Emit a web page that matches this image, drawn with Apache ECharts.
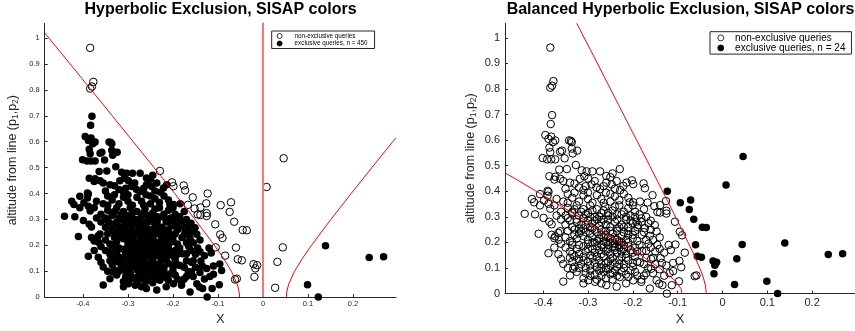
<!DOCTYPE html>
<html><head><meta charset="utf-8">
<script src="https://cdn.jsdelivr.net/npm/echarts@6/dist/echarts.min.js"></script>
<style>html,body{margin:0;padding:0;background:#fff}#c{width:855px;height:331px}</style>
</head><body><div id="c"></div>
<script>
const FONT = 'Liberation Sans, Arial, sans-serif';
const xTicks = [-0.4, -0.3, -0.2, -0.1, 0, 0.1, 0.2];
const yTicks = [0, 0.1, 0.2, 0.3, 0.4, 0.5, 0.6, 0.7, 0.8, 0.9, 1];

// points left of the hyperbola (black on the left, open on the right)
const mainCloud = [
[-0.38,0.698],[-0.383,0.663],[-0.395,0.62],[-0.388,0.605],[-0.382,0.614],[-0.373,0.599],[-0.378,0.592],[-0.386,0.571],[-0.384,0.553],[-0.401,0.53],[-0.391,0.525],[-0.382,0.525],[-0.373,0.525],[-0.362,0.555],[-0.358,0.559],[-0.352,0.529],[-0.342,0.599],[-0.338,0.597],[-0.336,0.592],[-0.336,0.567],[-0.334,0.548],[-0.324,0.559],[-0.327,0.503],
[-0.364,0.485],[-0.347,0.487],[-0.314,0.482],[-0.303,0.478],[-0.29,0.478],[-0.273,0.478],[-0.386,0.459],[-0.373,0.457],[-0.362,0.449],[-0.318,0.449],[-0.299,0.449],[-0.308,0.459],[-0.259,0.46],[-0.25,0.455],[-0.245,0.47],[-0.375,0.446],
[-0.355,0.44],[-0.34,0.434],[-0.292,0.427],[-0.281,0.415],[-0.273,0.408],[-0.259,0.434],[-0.247,0.427],[-0.236,0.44],[-0.221,0.421],[-0.214,0.434],[-0.39,0.402],[-0.33,0.43],[-0.32,0.415],[-0.305,0.42],[-0.285,0.44],[-0.265,0.42],[-0.24,0.41],[-0.228,0.405],[-0.35,0.41],[-0.31,0.405],
[-0.407,0.389],[-0.388,0.398],[-0.425,0.37],[-0.42,0.357],[-0.398,0.364],[-0.39,0.383],[-0.388,0.351],[-0.407,0.345],[-0.37,0.37],[-0.355,0.36],[-0.345,0.39],[-0.335,0.375],[-0.32,0.36],[-0.31,0.385],[-0.3,0.37],[-0.29,0.355],[-0.28,0.385],[-0.27,0.37],[-0.26,0.395],[-0.25,0.36],[-0.24,0.38],[-0.23,0.365],[-0.22,0.39],[-0.207,0.357],[-0.199,0.357],[-0.21,0.375],[-0.184,0.36],[-0.33,0.395],[-0.3,0.395],[-0.265,0.355],[-0.345,0.355],[-0.25,0.39],
[-0.441,0.312],[-0.418,0.31],[-0.384,0.332],[-0.375,0.345],[-0.36,0.32],[-0.35,0.305],[-0.345,0.335],[-0.335,0.315],[-0.325,0.345],[-0.32,0.305],[-0.31,0.33],[-0.3,0.315],[-0.295,0.345],[-0.285,0.3],[-0.28,0.33],[-0.27,0.315],[-0.262,0.34],[-0.255,0.305],[-0.245,0.325],[-0.235,0.31],[-0.23,0.345],[-0.22,0.32],[-0.21,0.335],[-0.205,0.305],[-0.195,0.32],[-0.185,0.31],[-0.17,0.3],[-0.175,0.33],[-0.315,0.32],[-0.29,0.325],[-0.265,0.325],[-0.24,0.34],[-0.2,0.345],[-0.37,0.305],[-0.33,0.33],
[-0.399,0.296],[-0.386,0.281],[-0.381,0.271],[-0.36,0.29],[-0.35,0.27],[-0.34,0.285],[-0.335,0.26],[-0.325,0.28],[-0.32,0.255],[-0.31,0.295],[-0.305,0.27],[-0.3,0.285],[-0.295,0.26],[-0.29,0.275],[-0.28,0.29],[-0.275,0.265],[-0.27,0.28],[-0.26,0.27],[-0.255,0.29],[-0.25,0.26],[-0.24,0.28],[-0.235,0.255],[-0.225,0.27],[-0.215,0.29],[-0.21,0.26],[-0.2,0.275],[-0.192,0.281],[-0.188,0.268],[-0.181,0.294],[-0.173,0.256],[-0.151,0.268],[-0.16,0.285],[-0.165,0.275],[-0.31,0.255],[-0.285,0.25],[-0.345,0.295],
[-0.41,0.234],[-0.381,0.23],[-0.373,0.224],[-0.366,0.237],[-0.362,0.244],[-0.365,0.211],[-0.375,0.217],[-0.35,0.22],[-0.345,0.245],[-0.34,0.205],[-0.33,0.23],[-0.325,0.215],[-0.315,0.245],[-0.31,0.225],[-0.3,0.21],[-0.295,0.235],[-0.29,0.22],[-0.285,0.2],[-0.28,0.24],[-0.275,0.215],[-0.27,0.23],[-0.265,0.205],[-0.26,0.245],[-0.255,0.22],[-0.25,0.2],[-0.245,0.235],[-0.24,0.215],[-0.235,0.245],[-0.23,0.205],[-0.225,0.225],[-0.22,0.24],[-0.215,0.21],[-0.21,0.23],[-0.2,0.215],[-0.195,0.245],[-0.19,0.205],[-0.18,0.23],[-0.162,0.226],[-0.147,0.243],[-0.155,0.21],[-0.17,0.21],[-0.14,0.22],[-0.26,0.2],[-0.255,0.19],[-0.245,0.205],[-0.24,0.195],[-0.235,0.21],[-0.23,0.19],[-0.225,0.2],[-0.22,0.19],[-0.25,0.215],[-0.265,0.22],[-0.28,0.205],
[-0.388,0.158],[-0.366,0.154],[-0.35,0.18],[-0.34,0.165],[-0.335,0.19],[-0.325,0.175],[-0.32,0.155],[-0.31,0.185],[-0.305,0.165],[-0.3,0.195],[-0.295,0.15],[-0.29,0.175],[-0.285,0.16],[-0.28,0.185],[-0.275,0.17],[-0.27,0.155],[-0.265,0.18],[-0.26,0.165],[-0.255,0.175],[-0.25,0.155],[-0.245,0.185],[-0.24,0.17],[-0.235,0.16],[-0.23,0.18],[-0.225,0.165],[-0.22,0.175],[-0.215,0.155],[-0.21,0.185],[-0.205,0.17],[-0.2,0.16],[-0.195,0.18],[-0.19,0.165],[-0.179,0.167],[-0.17,0.167],[-0.16,0.18],[-0.15,0.165],[-0.14,0.175],[-0.13,0.16],[-0.12,0.19],[-0.115,0.17],[-0.375,0.18],[-0.36,0.195],
[-0.355,0.116],[-0.34,0.14],[-0.335,0.125],[-0.33,0.105],[-0.32,0.135],[-0.315,0.115],[-0.31,0.145],[-0.305,0.1],[-0.3,0.125],[-0.295,0.11],[-0.29,0.14],[-0.285,0.12],[-0.28,0.105],[-0.275,0.13],[-0.27,0.115],[-0.265,0.145],[-0.26,0.1],[-0.255,0.125],[-0.25,0.11],[-0.245,0.14],[-0.24,0.12],[-0.235,0.105],[-0.23,0.13],[-0.225,0.145],[-0.22,0.115],[-0.21,0.13],[-0.2,0.105],[-0.19,0.125],[-0.184,0.122],[-0.159,0.135],[-0.138,0.139],[-0.096,0.128],[-0.092,0.103],[-0.11,0.12],[-0.125,0.11],[-0.15,0.115],[-0.17,0.14],[-0.195,0.145],[-0.33,0.145],[-0.36,0.135],[-0.345,0.1],
[-0.34,0.071],[-0.333,0.097],[-0.325,0.085],[-0.31,0.06],[-0.305,0.08],[-0.299,0.052],[-0.295,0.09],[-0.285,0.075],[-0.28,0.055],[-0.275,0.09],[-0.27,0.07],[-0.265,0.085],[-0.26,0.06],[-0.255,0.095],[-0.25,0.075],[-0.245,0.055],[-0.24,0.09],[-0.235,0.07],[-0.229,0.065],[-0.225,0.085],[-0.215,0.075],[-0.205,0.09],[-0.199,0.052],[-0.19,0.07],[-0.181,0.055],[-0.166,0.099],[-0.159,0.097],[-0.147,0.052],[-0.118,0.08],[-0.11,0.088],[-0.17,0.08],[-0.13,0.07],
[-0.355,0.047],[-0.284,0.046],[-0.259,0.033],[-0.236,0.027],[-0.181,0.046],[-0.162,0.02],[-0.141,0.039],[-0.134,0.033],[-0.124,0.0],[-0.113,0.033],[-0.097,0.048],[-0.27,0.04],[-0.215,0.04],[-0.31,0.04],
[-0.335,0.32],[-0.325,0.29],[-0.315,0.27],[-0.305,0.31],[-0.295,0.3],[-0.285,0.285],[-0.275,0.3],[-0.265,0.29],[-0.255,0.315],[-0.245,0.3],[-0.235,0.29],[-0.225,0.31],[-0.215,0.3],[-0.205,0.285],[-0.195,0.3],
[-0.33,0.25],[-0.32,0.235],[-0.305,0.24],[-0.29,0.255],[-0.27,0.25],[-0.25,0.245],[-0.23,0.26],[-0.21,0.245],[-0.19,0.26],[-0.175,0.24],
[-0.335,0.2],[-0.32,0.19],[-0.3,0.175],[-0.27,0.19],[-0.24,0.18],[-0.21,0.2],[-0.185,0.19],[-0.165,0.195],[-0.145,0.19],
[-0.335,0.155],[-0.31,0.13],[-0.28,0.145],[-0.25,0.135],[-0.215,0.14],[-0.2,0.12],[-0.175,0.115],[-0.155,0.14],[-0.135,0.12],
[-0.32,0.1],[-0.295,0.07],[-0.27,0.1],[-0.245,0.08],[-0.22,0.1],[-0.21,0.065],[-0.195,0.085],[-0.175,0.07],[-0.155,0.08],[-0.14,0.095],
[-0.26,0.12],[-0.23,0.115],[-0.29,0.2],[-0.26,0.23],[-0.22,0.26],[-0.2,0.23],[-0.18,0.28],[-0.16,0.25]
];
// non-exclusive in both panels
const openBoth = [
[-0.384,0.962],[-0.377,0.831],[-0.38,0.813],[-0.384,0.805],
[-0.229,0.487],[-0.202,0.443],[-0.199,0.428],[-0.176,0.431],[-0.173,0.412],[-0.156,0.385],[-0.126,0.362],[-0.152,0.342],[-0.139,0.346],[-0.145,0.319],[-0.139,0.317],[-0.125,0.324],[-0.125,0.313],[-0.167,0.356],[-0.106,0.281],[-0.095,0.242],[-0.09,0.228],[-0.105,0.192],[-0.084,0.16],[-0.058,0.071],[-0.062,0.068]
];
// non-exclusive on the left, exclusive on the right
const midGroup = [
[-0.123,0.40],[-0.094,0.355],[-0.071,0.366],[-0.074,0.329],[-0.064,0.291],[-0.045,0.259],[-0.036,0.258],[-0.06,0.191],[-0.056,0.146],[-0.047,0.142],[-0.021,0.127],[-0.013,0.123],[-0.017,0.111],[-0.019,0.078],[0.008,0.425],[0.046,0.536],[0.044,0.192],[0.032,0.136],[0.027,0.036]
];
// exclusive in both panels
const farRight = [[0.099,0.048],[0.123,0.0],[0.139,0.198],[0.236,0.153],[0.268,0.156]];

// red boundary curves
const hypLeft = [[-0.485,1.02],[-0.4756,1.0],[-0.4286,0.9],[-0.3817,0.8],[-0.335,0.7],[-0.2884,0.6],[-0.242,0.5],[-0.196,0.4],[-0.151,0.3],[-0.1079,0.2],[-0.0879,0.15],[-0.0703,0.1],[-0.0571,0.05],[-0.0529,0.02],[-0.052,0]];
const zeroLine = [[0,0],[0,1.06]];
const hypRight = [[0.052,0],[0.0529,0.02],[0.0571,0.05],[0.0703,0.1],[0.0879,0.15],[0.1079,0.2],[0.151,0.3],[0.196,0.4],[0.242,0.5],[0.2884,0.6],[0.2956,0.614]];
const balOuter = [[-0.09,0],[-0.0927,0.02],[-0.1052,0.05],[-0.1398,0.1],[-0.1818,0.15],[-0.2267,0.2],[-0.273,0.25],[-0.32,0.3],[-0.3674,0.35],[-0.415,0.4],[-0.463,0.45],[-0.485,0.472]];
const balInner = [[-0.036,0],[-0.0377,0.03],[-0.043,0.065],[-0.0507,0.1],[-0.064,0.154],[-0.0767,0.2],[-0.099,0.281],[-0.119,0.35],[-0.1357,0.408],[-0.1623,0.5],[-0.1914,0.6],[-0.232,0.739],[-0.2643,0.85],[-0.2935,0.95],[-0.325,1.057]];

const AX = '#262626';
function xAxisCfg(gi, fs, margin, nameGap) {
  return {type:'value', gridIndex:gi, min:-0.485, max:0.2956,
    name:'X', nameLocation:'middle', nameGap:nameGap,
    nameTextStyle:{fontFamily:FONT, fontSize:13, color:AX},
    axisLine:{onZero:false, lineStyle:{color:AX, width:1}},
    axisTick:{inside:true, length:3, customValues:xTicks, lineStyle:{color:AX}},
    axisLabel:{customValues:xTicks, fontFamily:FONT, fontSize:fs, color:AX, margin:margin, formatter:v=>String(v)},
    splitLine:{show:false}};
}
function yAxisCfg(gi, fs, margin, nameGap) {
  return {type:'value', gridIndex:gi, min:0, max:1.057,
    name:'{a|altitude from line (p}{s|1}{a|,p}{s|2}{a|)}', nameLocation:'middle', nameGap:nameGap, nameRotate:90,
    nameTextStyle:{rich:{a:{fontFamily:FONT, fontSize:12.5, color:AX}, s:{fontFamily:FONT, fontSize:8.5, color:AX, padding:[6,0,0,0]}}},
    axisLine:{onZero:false, lineStyle:{color:AX, width:1}},
    axisTick:{inside:true, length:3, customValues:yTicks, lineStyle:{color:AX}},
    axisLabel:{customValues:yTicks, fontFamily:FONT, fontSize:fs, color:AX, margin:margin, formatter:v=>String(v)},
    splitLine:{show:false}};
}
const openStyle = {color:'rgba(0,0,0,0)', borderColor:'#000', borderWidth:1, opacity:1};
const fillStyle = {color:'#000', borderColor:'#000', borderWidth:0, opacity:1};
function curve(data, xi, color, width) {
  return {type:'line', xAxisIndex:xi, yAxisIndex:xi, data:data, showSymbol:false, symbol:'none', silent:true,
    lineStyle:{color:color, width:width}, z:5, clip:true};
}
const chart = echarts.init(document.getElementById('c'), null, {renderer:'canvas'});
chart.setOption({
  animation:false,
  backgroundColor:'#fff',
  title:[
    {text:'Hyperbolic Exclusion, SISAP colors', left:220.5, top:2, padding:0, textAlign:'center', textStyle:{fontFamily:FONT, fontSize:16, fontWeight:'bold', color:'#000'}},
    {text:'Balanced Hyperbolic Exclusion, SISAP colors', left:680.5, top:2, padding:0, textAlign:'center', textStyle:{fontFamily:FONT, fontSize:16, fontWeight:'bold', color:'#000'}}
  ],
  legend:[
    {left:271.7, top:31, orient:'vertical', padding:[1.5,7,1.5,5], itemGap:0.5, itemWidth:20, itemHeight:5, selectedMode:false,
     borderColor:AX, borderWidth:1, backgroundColor:'#fff', icon:'circle', itemStyle:{borderWidth:0.8},
     textStyle:{fontFamily:FONT, fontSize:6.3, lineHeight:7, color:'#000'},
     data:['non-exclusive queries','exclusive queries, n = 450']},
    {left:710, top:31.7, orient:'vertical', padding:[1.2,6,1.2,7.4], itemGap:0, itemWidth:18.6, itemHeight:6, selectedMode:false,
     borderColor:AX, borderWidth:1, backgroundColor:'#fff', icon:'circle', itemStyle:{borderWidth:0.8},
     textStyle:{fontFamily:FONT, fontSize:10, lineHeight:9.3, color:'#000'},
     data:['non-exclusive queries','exclusive queries, n = 24']}
  ],
  grid:[
    {left:44.7, top:23.3, width:351.3, height:277, containLabel:false},
    {left:505, top:23.3, width:353.6, height:277, containLabel:false}
  ],
  xAxis:[xAxisCfg(0, 7.5, 3, 10), xAxisCfg(1, 11, 3.5, 14)],
  yAxis:[yAxisCfg(0, 7.5, 5, 25), yAxisCfg(1, 11, 5, 27)],
  series:[
    {name:'non-exclusive queries', type:'scatter', xAxisIndex:0, yAxisIndex:0, symbolSize:7.5, itemStyle:openStyle, data:openBoth.concat(midGroup), z:2},
    {name:'exclusive queries, n = 450', type:'scatter', xAxisIndex:0, yAxisIndex:0, symbolSize:7.5, itemStyle:fillStyle, data:mainCloud.concat(farRight), z:3},
    curve(hypLeft, 0, '#ff0000', 1),
    curve(zeroLine, 0, '#ff7070', 2),
    curve(hypRight, 0, '#ff0000', 1),
    {name:'non-exclusive queries', type:'scatter', xAxisIndex:1, yAxisIndex:1, symbolSize:7.5, itemStyle:openStyle, data:mainCloud.concat(openBoth), z:2},
    {name:'exclusive queries, n = 24', type:'scatter', xAxisIndex:1, yAxisIndex:1, symbolSize:7.5, itemStyle:fillStyle, data:midGroup.concat(farRight), z:3},
    curve(balOuter, 1, '#ff0000', 1),
    curve(balInner, 1, '#ff0000', 1)
  ]
});
</script></body></html>
